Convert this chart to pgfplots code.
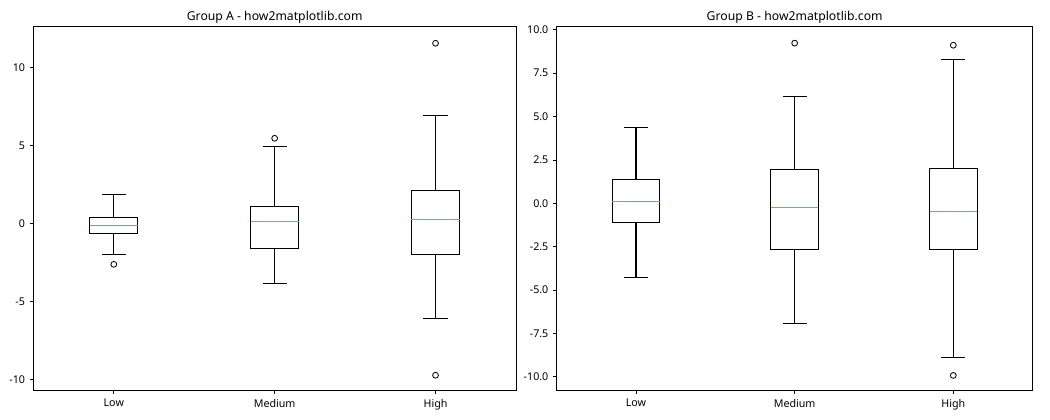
\documentclass[border=0pt]{standalone}
\usepackage{pgfplots}
\pgfplotsset{compat=1.18}
\usepgfplotslibrary{statistics}
\usepackage{fontspec}
\setmainfont{Noto Sans}
\definecolor{mplorange}{HTML}{FF7F0E}

\pgfplotsset{
  mybox/.style={
    scale only axis, height=262.6pt, anchor=south west,
    xmin=0.5, xmax=3.5, xtick={1,2,3}, xticklabels={Low,Medium,High},
    tick align=outside, tick pos=left, major tick length=2.45pt,
    every tick/.style={black, line width=0.56pt},
    axis line style={line width=0.56pt, black},
    ticklabel style={font=\fontsize{7.7}{9}\selectfont},
    /pgf/number format/assume math mode=true,
    every axis title/.style={font=\fontsize{8.8}{10}\selectfont, at={(0.5,1)}, anchor=base, yshift=4.2pt},
    boxplot/draw direction=y,
    boxplot/box extend=0.3, boxplot/whisker extend=0.15,
    boxplot/every median/.style={draw=mplorange, line width=0.7pt},
  },
  bx/.style={black, line width=0.75pt, mark=o, mark size=2.1pt,
    mark options={line width=0.6pt, solid, fill=none, draw=black}},
}

\begin{document}
\begin{tikzpicture}
\useasboundingbox (0,0) rectangle (756pt,302.4pt);
\begin{axis}[mybox, at={(24pt,21.1pt)}, width=347.5pt,
  ymin=-10.73, ymax=12.65, ytick={-10,-5,0,5,10},
  title={Group A - how2matplotlib.com}]
\addplot[bx, boxplot prepared={draw position=1, median=-0.13, upper quartile=0.385, lower quartile=-0.64, upper whisker=1.86, lower whisker=-1.99}]
  table[row sep=\\, y index=0] {y\\ -2.63\\};
\addplot[bx, boxplot prepared={draw position=2, median=0.13, upper quartile=1.09, lower quartile=-1.60, upper whisker=4.94, lower whisker=-3.85}]
  table[row sep=\\, y index=0] {y\\ 5.45\\};
\addplot[bx, boxplot prepared={draw position=3, median=0.26, upper quartile=2.12, lower quartile=-1.99, upper whisker=6.92, lower whisker=-6.09}]
  table[row sep=\\, y index=0] {y\\ 11.54\\ -9.74\\};
\end{axis}
\begin{axis}[mybox, at={(400.8pt,21.1pt)}, width=342.7pt,
  ymin=-10.80, ymax=10.22, ytick={-10,-7.5,-5,-2.5,0,2.5,5,7.5,10},
  yticklabel style={/pgf/number format/.cd, fixed, fixed zerofill, precision=1},
  title={Group B - how2matplotlib.com}]
\addplot[bx, boxplot prepared={draw position=1, median=0.10, upper quartile=1.36, lower quartile=-1.13, upper whisker=4.38, lower whisker=-4.27}]
  coordinates {};
\addplot[bx, boxplot prepared={draw position=2, median=-0.25, upper quartile=1.94, lower quartile=-2.69, upper whisker=6.17, lower whisker=-6.92}]
  table[row sep=\\, y index=0] {y\\ 9.23\\};
\addplot[bx, boxplot prepared={draw position=3, median=-0.46, upper quartile=2.02, lower quartile=-2.65, upper whisker=8.30, lower whisker=-8.88}]
  table[row sep=\\, y index=0] {y\\ 9.11\\ -9.92\\};
\end{axis}
\end{tikzpicture}
\end{document}
